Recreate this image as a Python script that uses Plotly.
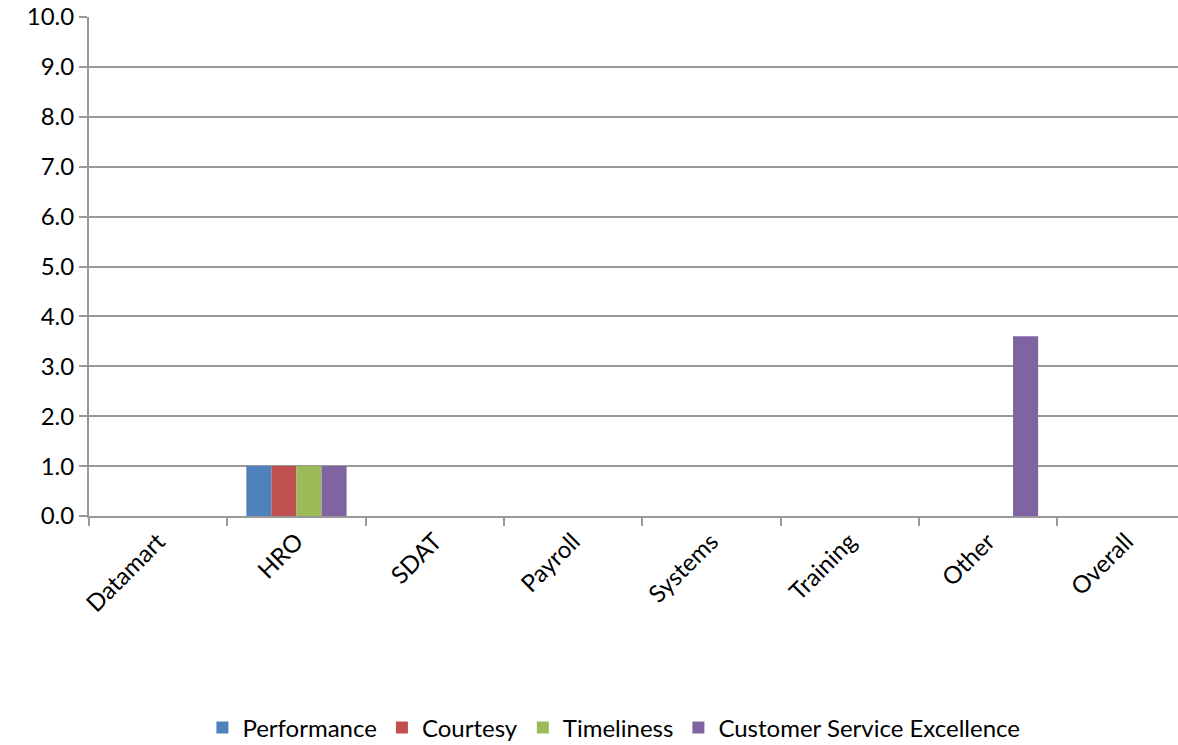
import plotly.graph_objects as go

categories = ["Datamart", "HRO", "SDAT", "Payroll", "Systems", "Training", "Other", "Overall"]
performance = [0, 1.0, 0, 0, 0, 0, 0, 0]
courtesy = [0, 1.0, 0, 0, 0, 0, 0, 0]
timeliness = [0, 1.0, 0, 0, 0, 0, 0, 0]
cse = [0, 1.0, 0, 0, 0, 0, 3.6, 0]
y_ticks = [0, 1, 2, 3, 4, 5, 6, 7, 8, 9, 10]

series = [
    ("Performance", performance, "#4F81BD"),
    ("Courtesy", courtesy, "#C0504D"),
    ("Timeliness", timeliness, "#9BBB59"),
    ("Customer Service Excellence", cse, "#8064A2"),
]

fig = go.Figure()
for name, vals, color in series:
    fig.add_trace(go.Bar(name=name, x=list(range(len(categories))), y=vals,
                         marker=dict(color=color, line=dict(width=0))))

font = "Lato, 'Open Sans', sans-serif"
fig.update_layout(
    width=1178, height=745,
    margin=dict(l=89, r=0, t=17, b=229, autoexpand=False),
    barmode="group", bargap=0.275, bargroupgap=0,
    plot_bgcolor="white", paper_bgcolor="white",
    font=dict(family=font, size=24, color="black"),
    legend=dict(orientation="h", x=0.482, xanchor="center", y=0.023, yref="container",
                yanchor="middle", font=dict(size=24), itemsizing="constant",
                traceorder="normal"),
    showlegend=True,
)
fig.update_xaxes(
    range=[-0.5, 7.374], automargin=False,
    tickmode="array", tickvals=list(range(len(categories))), ticktext=categories,
    tickangle=-45, ticks="", showgrid=False,
    showline=True, linecolor="#999999", linewidth=2,
    tickfont=dict(size=24),
)
fig.update_xaxes(minor=dict(tickmode="array", tickvals=[i - 0.5 for i in range(len(categories) + 1)],
                            ticks="outside", ticklen=8, tickcolor="#999999", tickwidth=2, showgrid=False))
fig.update_yaxes(
    range=[0, 10], automargin=False, tickmode="array", tickvals=y_ticks,
    ticktext=[f"{v:.1f}" for v in y_ticks],
    showgrid=True, gridcolor="#999999", gridwidth=2,
    showline=True, linecolor="#999999", linewidth=2,
    ticks="outside", ticklen=8, tickcolor="#999999", tickwidth=2,
    zeroline=False, tickfont=dict(size=24),
)

fig.write_html("out.html", config={"displayModeBar": False},
               post_script="document.body.style.margin='0';document.body.style.overflow='hidden';")
